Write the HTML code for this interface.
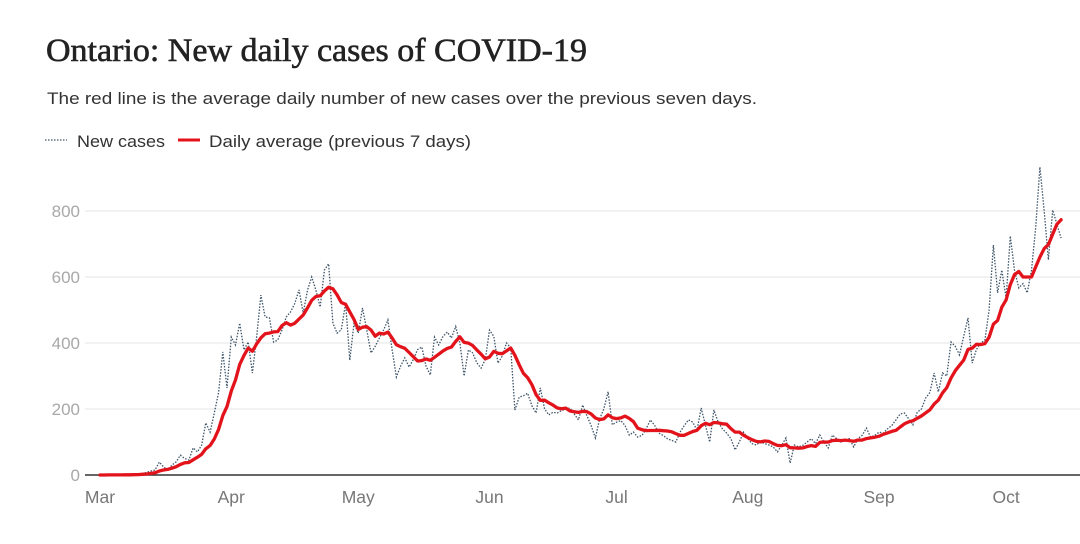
<!DOCTYPE html>
<html><head><meta charset="utf-8"><style>
body{margin:0;width:1080px;height:544px;background:#fff;overflow:hidden;font-family:"Liberation Sans",sans-serif}
svg{position:absolute;left:0;top:0}
</style></head><body>
<svg id="chart" width="1080" height="544">
<text x="46" y="61" font-family="Liberation Serif, serif" font-size="33" fill="#222" stroke="#222" stroke-width="0.6" textLength="541" lengthAdjust="spacingAndGlyphs">Ontario: New daily cases of COVID-19</text>
<text x="47" y="104" font-size="17" fill="#333" textLength="710" lengthAdjust="spacingAndGlyphs">The red line is the average daily number of new cases over the previous seven days.</text>
</svg>
<script>
const monthLabels=["Mar","Apr","May","Jun","Jul","Aug","Sep","Oct"];
const monthDays=[0,31,61,92,122,153,184,214];
const yTicks=[0,200,400,600,800];
const newCases=[0,0,1,0,1,0,2,1,2,3,5,8,12,15,39,25,15,30,40,60,50,45,82,70,90,158,130,188,250,
373,264,418,394,460,379,403,309,420,545,479,476,403,409,440,479,494,520,561,491,560,600,560,509,621,640,460,430,440,521,348,460,430,506,440,370,390,415,440,470,380,297,330,355,327,350,380,388,330,303,418,394,420,433,415,450,400,300,379,370,340,324,350,439,
420,339,360,400,385,197,236,240,248,210,188,264,200,182,190,188,195,200,203,185,167,212,180,150,112,170,200,252,152,160,165,150,121,130,115,120,140,167,150,127,120,110,105,100,130,150,167,160,136,203,150,100,197,160,140,127,110,76,100,130,110,95,91,100,95,91,85,70,90,112,36,91,85,90,100,110,95,121,100,82,121,110,100,106,110,85,110,120,142,115,120,130,127,140,150,167,185,188,170,152,190,200,233,250,309,252,309,300,403,390,364,420,476,339,380,400,409,500,697,552,621,536,724,620,567,580,552,621,750,933,800,652,803,760,718];
const avgWindow=7;
const NS="http://www.w3.org/2000/svg";
const svg=document.getElementById('chart');
const xS=d=>100+d*4.234;
const yS=v=>475-v*0.33;
function mk(t,a){const e=document.createElementNS(NS,t);for(const k in a)e.setAttribute(k,a[k]);svg.appendChild(e);return e;}
yTicks.forEach(v=>{
  if(v>0){const g=mk('line',{x1:85,x2:1080,y1:yS(v),y2:yS(v),stroke:'#e4e4e4','stroke-width':1});
  
  }
  const t=mk('text',{x:80,y:yS(v)+6,'text-anchor':'end','font-size':17,fill:'#a8a8a8'});
  t.textContent=v;
  
  
});
monthLabels.forEach((m,i)=>{
  const x=xS(monthDays[i]);
  const t=mk('text',{x:x,y:503,'text-anchor':'middle','font-size':17.5,fill:'#777'});
  t.textContent=m;
  
  
});
const base=mk('line',{x1:85,x2:1080,y1:475,y2:475,stroke:'#333','stroke-width':1.5});


const p1=newCases.map((v,i)=>(i?'L':'M')+xS(i).toFixed(1)+','+yS(v).toFixed(1)).join('');
const dl=mk('path',{d:p1,fill:'none',stroke:'#3e5468','stroke-width':1.3,'stroke-dasharray':'1.5,1.5'});


const avg=newCases.map((v,i)=>{const s=newCases.slice(Math.max(0,i-avgWindow+1),i+1);return s.reduce((a,b)=>a+b,0)/s.length;});
const p2=avg.map((v,i)=>(i?'L':'M')+xS(i).toFixed(1)+','+yS(v).toFixed(1)).join('');
const rl=mk('path',{d:p2,fill:'none',stroke:'#e3131b','stroke-width':3.3,'stroke-linejoin':'round','stroke-linecap':'round'});


const l1=mk('line',{x1:45,x2:67,y1:140,y2:140,stroke:'#3e5468','stroke-width':1.2,'stroke-dasharray':'1.5,1.5'});


const t1=mk('text',{x:77,y:147,'font-size':17,fill:'#333',textLength:88,lengthAdjust:'spacingAndGlyphs'});t1.textContent='New cases';


const l2=mk('line',{x1:178,x2:200,y1:140,y2:140,stroke:'#e3131b','stroke-width':3});


const t2=mk('text',{x:209,y:147,'font-size':17,fill:'#333',textLength:262,lengthAdjust:'spacingAndGlyphs'});t2.textContent='Daily average (previous 7 days)';


</script>
</body></html>
